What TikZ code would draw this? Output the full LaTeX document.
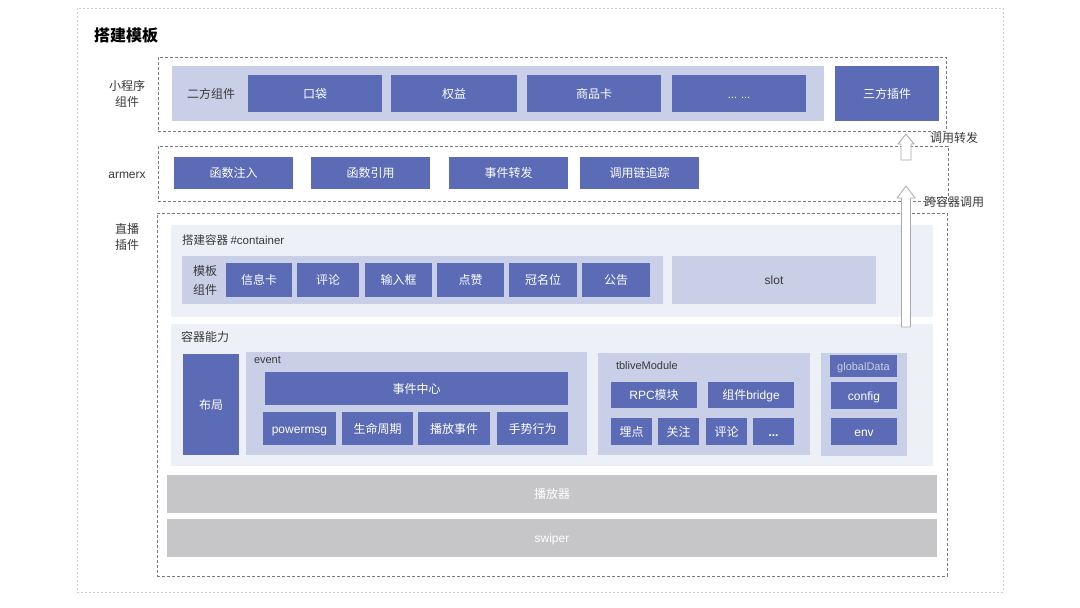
\documentclass[tikz,border=0pt]{standalone}
\usepackage{fontspec}
\setmainfont{Noto Sans CJK SC}
\newfontfamily\lat{Liberation Sans}
\definecolor{blk}{HTML}{5B6BB5}
\definecolor{lb}{HTML}{C9CFE7}
\definecolor{vlb}{HTML}{EEF0F8}
\definecolor{gr}{HTML}{C6C6C8}
\definecolor{dsh}{HTML}{7A7A7A}
\definecolor{txt}{HTML}{3A3A3A}
\definecolor{frm}{HTML}{CCCCCC}
\definecolor{arr}{HTML}{A8A8A8}
\newcommand\fsz[2]{\fontsize{#1}{#2}\selectfont}
\newcommand\mybox[7]{\node[#7, minimum width={(#4-#2)*1pt}, minimum height={(#5-#3)*1pt}] (#1) at ({(#2+#4)/2},{(#3+#5)/2}) {#6};}
\begin{document}
\begin{tikzpicture}[x=1pt,y=-1pt,
  every node/.style={inner sep=0pt, outer sep=0pt},
  even/.style={text height=10pt, text depth=1pt},
  blue/.style={fill=blk, text=white, font=\fsz{12}{15}, even},
  panel/.style={fill=lb},
  pale/.style={fill=vlb},
  grey/.style={fill=gr, text=white, font=\fsz{12}{15}, even},
  dbox/.style={draw=dsh, dash pattern=on 3pt off 2pt, line width=0.6pt},
  outerf/.style={draw=frm, dash pattern=on 2pt off 2pt, line width=0.6pt},
  lbl/.style={text=txt, align=center, font=\fsz{12}{16}},
  arrowshape/.style={fill=white, draw=arr, line width=0.8pt, line join=round}]
\useasboundingbox (0,0) rectangle (1080,608);
\fill[white] (0,0) rectangle (1080,608);
% outer frame
\mybox{frame}{77}{8}{1003}{592}{}{outerf}
\node[anchor=west, font=\bfseries\fsz{16}{18}, text=black] (title) at (94,35) {搭建模板};
% mini program row
\mybox{mp}{158}{57}{946}{131}{}{dbox}
\mybox{mpbg}{172}{66}{824}{121}{}{panel}
\node[anchor=west, text=txt, font=\fsz{12}{15}] (efzj) at (187,94) {二方组件};
\mybox{kd}{248}{75}{382}{112}{口袋}{blue}
\mybox{qy}{391}{75}{517}{112}{权益}{blue}
\mybox{spk}{527}{75}{661}{112}{商品卡}{blue}
\mybox{more1}{672}{75}{806}{112}{{\lat\fsz{11}{13}... ...}}{blue}
\mybox{sfcj}{835}{66}{939}{121}{三方插件}{blue}
\node[lbl] (lmp) at (127,94) {小程序\\组件};
% armerx row
\mybox{ax}{158}{146}{948}{201}{}{dbox}
\node[lbl, font=\lat\fsz{12}{15}] (lax) at (127,175) {armerx};
\mybox{hszr}{174}{157}{293}{189}{函数注入}{blue}
\mybox{hsyy}{311}{157}{430}{189}{函数引用}{blue}
\mybox{sjzf}{449}{157}{568}{189}{事件转发}{blue}
\mybox{dylzz}{580}{157}{699}{189}{调用链追踪}{blue}
% live plugin
\mybox{zb}{157}{213}{947}{576}{}{dbox}
\node[lbl] (lzb) at (127,237) {直播\\插件};
\mybox{jr}{171}{225}{933}{317}{}{pale}
\node[anchor=west, text=txt, font=\fsz{11.5}{14}] (jrt) at (182,240) {搭建容器 {\lat\#container}};
\mybox{mbzj}{182}{256}{663}{304}{}{panel}
\node[lbl, font=\fsz{12}{19}] (mbzjt) at (205,280) {模板\\组件};
\mybox{xxk}{226}{263}{292}{297}{信息卡}{blue}
\mybox{pl}{297}{263}{359}{297}{评论}{blue}
\mybox{srk}{365}{263}{432}{297}{输入框}{blue}
\mybox{dz}{437}{263}{504}{297}{点赞}{blue}
\mybox{gmw}{509}{263}{577}{297}{冠名位}{blue}
\mybox{gg}{582}{263}{650}{297}{公告}{blue}
\mybox{slot}{672}{256}{876}{304}{slot}{panel, text=txt, font=\lat\fsz{12}{15}, even}
% container abilities
\mybox{nl}{171}{324}{933}{466}{}{pale}
\node[anchor=west, text=txt, font=\fsz{12}{15}] (nlt) at (181,337) {容器能力};
\mybox{bj}{183}{354}{239}{455}{布局}{blue}
\mybox{ev}{246}{352}{587}{455}{}{panel}
\node[anchor=west, text=txt, font=\lat\fsz{11}{13}] (evt) at (254,360) {event};
\mybox{sjzx}{265}{372}{568}{405}{事件中心}{blue}
\mybox{pm}{263}{412}{336}{445}{{\lat powermsg}}{blue}
\mybox{smzq}{342}{412}{413}{445}{生命周期}{blue}
\mybox{bfsj}{418}{412}{490}{445}{播放事件}{blue}
\mybox{sszw}{497}{412}{568}{445}{手势行为}{blue}
\mybox{tb}{598}{353}{810}{455}{}{panel}
\node[anchor=west, text=txt, font=\lat\fsz{11}{13}] (tbt) at (616,366) {tbliveModule};
\mybox{rpc}{611}{382}{697}{408}{{\lat RPC}模块}{blue}
\mybox{bridge}{708}{382}{794}{408}{组件{\lat bridge}}{blue}
\mybox{md}{611}{418}{652}{445}{埋点}{blue}
\mybox{gz}{658}{418}{699}{445}{关注}{blue}
\mybox{pl2}{706}{418}{747}{445}{评论}{blue}
\mybox{more2}{753}{418}{794}{445}{{\lat\bfseries ...}}{blue}
\mybox{rc}{821}{353}{907}{456}{}{panel}
\mybox{gd}{830}{355}{897}{377}{globalData}{blue, text=lb, font=\lat\fsz{11}{13}}
\mybox{cfg}{831}{382}{897}{409}{config}{blue, font=\lat\fsz{12}{15}}
\mybox{env}{831}{418}{897}{445}{env}{blue, font=\lat\fsz{12}{15}}
% gray bars
\mybox{bfq}{167}{475}{937}{513}{播放器}{grey}
\mybox{swp}{167}{519}{937}{557}{swiper}{grey, font=\lat\fsz{12}{15}}
% arrows
\coordinate (a1tip) at (906,134);
\draw[arrowshape] (a1tip) -- (914,144) -- (911,144) -- (911,160) -- (901,160) -- (901,144) -- (898,144) -- cycle;
\node[anchor=west, text=txt, font=\fsz{12}{15}] (l1) at (930,138) {调用转发};
\coordinate (a2tip) at (906,186);
\draw[arrowshape] (a2tip) -- (915,198) -- (910.5,198) -- (910.5,327) -- (901.5,327) -- (901.5,198) -- (897,198) -- cycle;
\node[anchor=west, text=txt, font=\fsz{12}{15}] (l2) at (924,202) {跨容器调用};
\end{tikzpicture}
\end{document}
